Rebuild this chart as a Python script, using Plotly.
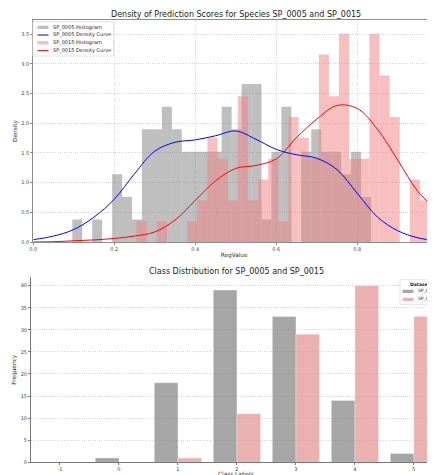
import numpy as np
import plotly.graph_objects as go

# ---------------- data: top panel (histograms, counts per bin) ----------------
sp0005_counts = [1, 0, 1, 0, 3, 2, 1, 5, 5, 6, 5, 4, 4, 4, 4, 6, 5, 7, 7, 1,
                 4, 6, 0, 4, 5, 4, 4, 3, 4, 2]
sp0005_range = [0.0963, 0.834]
sp0015_counts = [1, 0, 1, 0, 0, 1, 2, 5, 4, 2, 7, 2, 3, 4, 1, 6, 5, 4, 9, 7,
                 10, 4, 4, 10, 8, 6, 0, 3, 2, 3]
sp0015_range = [0.255, 1.005]

# density curves
kde_x = [0.00, 0.05, 0.10, 0.15, 0.20, 0.25, 0.30, 0.35, 0.40, 0.45, 0.50,
         0.55, 0.60, 0.65, 0.70, 0.75, 0.80, 0.85, 0.90, 0.95, 1.00]
kde_sp0005 = [0.04, 0.10, 0.21, 0.42, 0.72, 1.15, 1.53, 1.68, 1.72, 1.79, 1.87,
              1.73, 1.56, 1.47, 1.41, 1.22, 0.82, 0.42, 0.19, 0.07, 0.02]
kde_sp0015 = [0.00, 0.005, 0.02, 0.035, 0.06, 0.10, 0.17, 0.37, 0.70, 1.03, 1.24,
              1.29, 1.40, 1.76, 2.07, 2.30, 2.25, 1.90, 1.38, 0.85, 0.52]

# ---------------- data: bottom panel (class counts) ----------------
classes = [-1, 0, 1, 2, 3, 4, 5]
class_sp0005 = [0, 1, 18, 39, 33, 14, 2]
class_sp0015 = [0, 0, 1, 11, 29, 40, 33]

FONT = "DejaVu Sans"
# the page body has an 8px margin, so the figure is 8px smaller than the window
OFF = 8
W, H = 435 - OFF, 475 - OFF


def px(x):
    return (x - OFF) / W


def py(y):
    return 1 - (y - OFF) / H


C_GRAY_H = "rgba(128,128,128,0.5)"
C_PINK_H = "rgba(240,128,128,0.5)"
C_GRAY_B = "rgba(128,128,128,0.7)"
C_PINK_B = "rgba(226,142,142,0.7)"


def hist_bars(counts, rng):
    edges = np.linspace(rng[0], rng[1], len(counts) + 1)
    width = edges[1] - edges[0]
    centers = (edges[:-1] + edges[1:]) / 2
    dens = np.asarray(counts, dtype=float) / (np.sum(counts) * width)
    return centers, dens, width


fig = go.Figure()

cx, dy, w = hist_bars(sp0005_counts, sp0005_range)
fig.add_trace(go.Bar(x=cx, y=dy, width=w, name="SP_0005 Histogram",
                     marker=dict(color=C_GRAY_H, line=dict(width=0)),
                     xaxis="x", yaxis="y"))
fig.add_trace(go.Scatter(x=kde_x, y=kde_sp0005, mode="lines", name="SP_0005 Density Curve",
                         line=dict(color="blue", width=1, shape="spline"),
                         xaxis="x", yaxis="y"))
cx, dy, w = hist_bars(sp0015_counts, sp0015_range)
fig.add_trace(go.Bar(x=cx, y=dy, width=w, name="SP_0015 Histogram",
                     marker=dict(color=C_PINK_H, line=dict(width=0)),
                     xaxis="x", yaxis="y"))
fig.add_trace(go.Scatter(x=kde_x, y=kde_sp0015, mode="lines", name="SP_0015 Density Curve",
                         line=dict(color="red", width=1, shape="spline"),
                         xaxis="x", yaxis="y"))

fig.add_trace(go.Bar(x=classes, y=class_sp0005, width=0.4, offset=-0.4, name="SP_0005",
                     marker=dict(color=C_GRAY_B,
                                 line=dict(color="rgba(255,255,255,0.6)", width=0.5)),
                     xaxis="x2", yaxis="y2"))
fig.add_trace(go.Bar(x=classes, y=class_sp0015, width=0.4, offset=0.0, name="SP_0015",
                     marker=dict(color=C_PINK_B,
                                 line=dict(color="rgba(255,255,255,0.6)", width=0.5)),
                     xaxis="x2", yaxis="y2"))

tickfont = dict(family=FONT, size=5, color="#444")
axtitle = dict(family=FONT, size=5.8, color="#333")
GRID = dict(showgrid=True, gridcolor="#d6d6d6", griddash="1px,1.2px", gridwidth=0.7)

# ---------------- hand-drawn legends (compact, like the reference) ----------------
shapes = []
annotations = []


def legend_box(x0, y0, x1, y1):
    shapes.append(dict(type="rect", xref="paper", yref="paper",
                       x0=px(x0), x1=px(x1), y0=py(y1), y1=py(y0),
                       fillcolor="rgba(255,255,255,0.85)",
                       line=dict(color="#d0d0d0", width=0.6), layer="above"))


def legend_patch(x0, x1, yc, color, h=3.4):
    shapes.append(dict(type="rect", xref="paper", yref="paper",
                       x0=px(x0), x1=px(x1), y0=py(yc + h / 2), y1=py(yc - h / 2),
                       fillcolor=color, line=dict(width=0), layer="above"))


def legend_line(x0, x1, yc, color):
    shapes.append(dict(type="line", xref="paper", yref="paper",
                       x0=px(x0), x1=px(x1), y0=py(yc), y1=py(yc),
                       line=dict(color=color, width=1), layer="above"))


def legend_text(x, yc, text, size=5.0, anchor="left"):
    annotations.append(dict(text=text, xref="paper", yref="paper", x=px(x), y=py(yc),
                            xanchor=anchor, yanchor="middle", showarrow=False,
                            borderpad=0, font=dict(family=FONT, size=size, color="#222")))


# top-left legend
legend_box(32.8, 21.7, 113.3, 56.0)
top_items = [("patch", C_GRAY_H, "SP_0005 Histogram", 27.3),
             ("line", "blue", "SP_0005 Density Curve", 35.0),
             ("patch", C_PINK_H, "SP_0015 Histogram", 42.8),
             ("line", "red", "SP_0015 Density Curve", 50.6)]
for kind, col, label, yc in top_items:
    if kind == "patch":
        legend_patch(37.5, 48.5, yc, col)
    else:
        legend_line(37.5, 48.5, yc, col)
    legend_text(51.5, yc, label)

# bottom-right legend (cut by the right edge, as in the reference)
legend_box(400.0, 279.7, 446.0, 304.7)
legend_text(421.5, 284.0, "<b>Datasets</b>", size=4.5, anchor="center")
for col, label, yc in [(C_GRAY_B, "SP_0005", 291.4), (C_PINK_B, "SP_0015", 299.4)]:
    legend_patch(402.7, 413.3, yc, col, h=3.3)
    legend_text(416.8, yc, label, size=4.5)

# titles
annotations.append(dict(text="Density of Prediction Scores for Species SP_0005 and SP_0015",
                        xref="paper", yref="paper", x=px(236), y=py(14.5),
                        xanchor="center", yanchor="middle", showarrow=False,
                        font=dict(family=FONT, size=8, color="#222")))
annotations.append(dict(text="Class Distribution for SP_0005 and SP_0015",
                        xref="paper", yref="paper", x=px(236.8), y=py(271.3),
                        xanchor="center", yanchor="middle", showarrow=False,
                        font=dict(family=FONT, size=8, color="#222")))
# bottom x-axis title, sitting at the lower edge like in the reference
annotations.append(dict(text="Class Labels",
                        xref="paper", yref="paper", x=px(235.5), y=py(473.8),
                        xanchor="center", yanchor="middle", showarrow=False,
                        borderpad=0, font=axtitle))

fig.update_layout(
    width=W, height=H,
    margin=dict(l=0, r=0, t=0, b=0, autoexpand=False),
    paper_bgcolor="white", plot_bgcolor="white",
    barmode="overlay", showlegend=False,
    font=dict(family=FONT, color="#222"),
    xaxis=dict(domain=[px(33.3), 1.0], range=[0, 0.992], anchor="y",
               tickvals=[0.0, 0.2, 0.4, 0.6, 0.8], tickformat=".1f", **GRID,
               showline=True, linecolor="#8c8c8c", linewidth=1, mirror=True,
               ticks="outside", ticklen=2, tickcolor="#8c8c8c", tickfont=tickfont,
               zeroline=False,
               title=dict(text="RegValue", font=axtitle, standoff=1)),
    yaxis=dict(domain=[py(242), py(20)], range=[0, 3.74], anchor="x",
               tickvals=[0, 0.5, 1, 1.5, 2, 2.5, 3, 3.5], tickformat=".1f", **GRID,
               showline=True, linecolor="#8c8c8c", linewidth=1,
               ticks="outside", ticklen=2, tickcolor="#8c8c8c", tickfont=tickfont,
               zeroline=False,
               title=dict(text="Density", font=axtitle, standoff=3)),
    xaxis2=dict(domain=[px(31), 1.0], range=[-1.49, 5.357], anchor="y2",
                tickvals=classes, ticktext=[str(c) for c in classes],
                showgrid=False, showline=True, linecolor="#777", linewidth=1,
                ticks="outside", ticklen=2, tickcolor="#777", tickfont=tickfont,
                zeroline=False),
    yaxis2=dict(domain=[py(462.3), py(277.3)], range=[0, 41.9], anchor="x2",
                tickvals=[0, 5, 10, 15, 20, 25, 30, 35, 40], **GRID,
                showline=True, linecolor="#777", linewidth=1,
                ticks="outside", ticklen=2, tickcolor="#777", tickfont=tickfont,
                zeroline=False,
                title=dict(text="Frequency", font=axtitle, standoff=3)),
    shapes=shapes,
    annotations=annotations,
)

fig.write_html("out.html")
